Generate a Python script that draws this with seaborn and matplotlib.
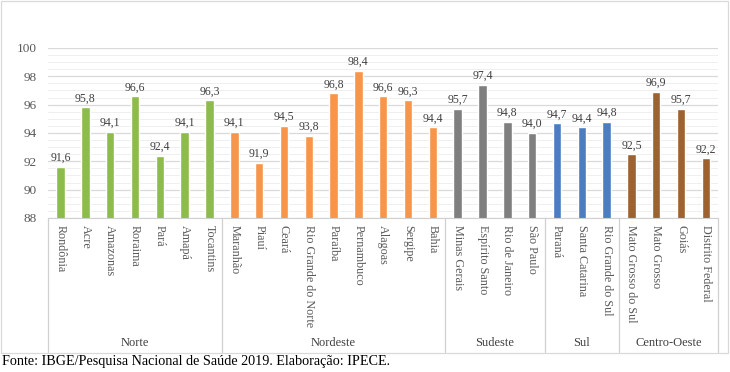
import pandas as pd
import matplotlib
matplotlib.use("Agg")
import matplotlib.pyplot as plt
import matplotlib.transforms as mtransforms
from matplotlib.patches import Rectangle
from matplotlib.ticker import MultipleLocator
import seaborn as sns

# Dados: percentual por UF, agrupado por região
estados = ["Rondônia", "Acre", "Amazonas", "Roraima", "Pará", "Amapá", "Tocantins",
           "Maranhão", "Piauí", "Ceará", "Rio Grande do Norte", "Paraíba", "Pernambuco",
           "Alagoas", "Sergipe", "Bahia",
           "Minas Gerais", "Espírito Santo", "Rio de Janeiro", "São Paulo",
           "Paraná", "Santa Catarina", "Rio Grande do Sul",
           "Mato Grosso do Sul", "Mato Grosso", "Goiás", "Distrito Federal"]
valores = [91.6, 95.8, 94.1, 96.6, 92.4, 94.1, 96.3,
           94.1, 91.9, 94.5, 93.8, 96.8, 98.4, 96.6, 96.3, 94.4,
           95.7, 97.4, 94.8, 94.0,
           94.7, 94.4, 94.8,
           92.5, 96.9, 95.7, 92.2]
regioes = ["Norte"] * 7 + ["Nordeste"] * 9 + ["Sudeste"] * 4 + ["Sul"] * 3 + ["Centro-Oeste"] * 4
ordem_regioes = ["Norte", "Nordeste", "Sudeste", "Sul", "Centro-Oeste"]
cores = ["#8DBB4C", "#F7964A", "#7F7F7F", "#4A7EC1", "#9C6230"]

df = pd.DataFrame({"Estado": estados, "Valor": valores, "Região": regioes})

sns.set_style("white")
plt.rcParams["font.family"] = ["Liberation Serif", "DejaVu Serif"]

fig = plt.figure(figsize=(7.3, 3.72), dpi=100)
ax = fig.add_axes([0.066, 0.414, 0.918, 0.457])

sns.barplot(data=df, x="Estado", y="Valor", hue="Região", hue_order=ordem_regioes,
            palette=cores, saturation=1, dodge=False, width=0.34, legend=False, ax=ax)

ax.set_ylim(88, 100)
ax.yaxis.set_major_locator(MultipleLocator(2))
ax.yaxis.set_minor_locator(MultipleLocator(0.5))
ax.grid(axis="y", which="major", color="#D9D9D9", linewidth=0.9)
ax.grid(axis="y", which="minor", color="#EFEFEF", linewidth=0.7)
ax.set_axisbelow(True)
for s in ["top", "right", "left"]:
    ax.spines[s].set_visible(False)
ax.spines["bottom"].set_color("#D0D0D0")
ax.set_xlim(-0.5, len(estados) - 0.5)
ax.set_xlabel("")
ax.set_ylabel("")
ax.tick_params(axis="y", length=0, labelsize=9.5, labelcolor="#595959", pad=8)
ax.tick_params(axis="x", length=0, labelsize=8.7, labelcolor="#595959", pad=5)
plt.setp(ax.get_xticklabels(), rotation=-90, va="top", ha="center")

# Rótulos dos valores com vírgula decimal
for cont in ax.containers:
    ax.bar_label(cont, labels=[f"{v:.1f}".replace(".", ",") if v == v else "" for v in cont.datavalues],
                 padding=2, fontsize=8.5, color="#404040")

# Separadores e nomes das regiões
trans = mtransforms.blended_transform_factory(ax.transData, ax.transAxes)
limites = [-0.5]
inicio = 0
for reg in ordem_regioes:
    n = regioes.count(reg)
    centro = inicio + (n - 1) / 2
    ax.text(centro, -0.735, reg, transform=trans, ha="center", va="center",
            fontsize=9, color="#404040")
    inicio += n
    limites.append(inicio - 0.5)
for b in limites:
    ax.plot([b, b], [0, -0.79], transform=trans, color="#D0D0D0", lw=0.9, clip_on=False)

# Moldura do gráfico
fig.patches.append(Rectangle((0.002, 1 - 353 / 372), 0.995, 353 / 372 - 0.004,
                             transform=fig.transFigure, fill=False,
                             edgecolor="#D9D9D9", linewidth=0.9))

fig.text(0.003, 0.012, "Fonte: IBGE/Pesquisa Nacional de Saúde 2019. Elaboração: IPECE.",
         fontsize=10.2, color="black", ha="left", va="bottom")

fig.savefig("out.png", dpi=100)
